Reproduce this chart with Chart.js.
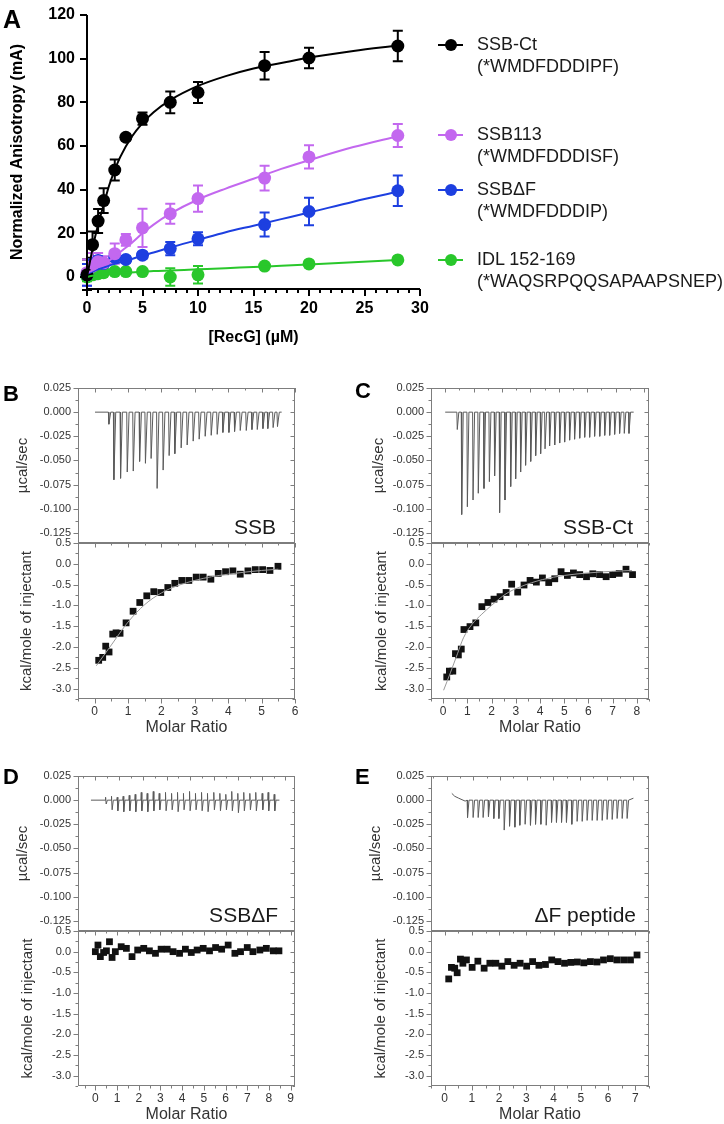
<!DOCTYPE html>
<html>
<head>
<meta charset="utf-8">
<script src="https://cdn.jsdelivr.net/npm/chart.js@4.4.1/dist/chart.umd.min.js"></script>
<style>
  body { margin: 0; background: #fff; width: 724px; height: 1124px; position: relative; overflow: hidden;
         font-family: "Liberation Sans", Arial, sans-serif; }
  canvas { position: absolute; }
  .panel { position: absolute; font-weight: bold; line-height: 1; color: #000; }
  .leg { position: absolute; left: 477px; font-size: 18px; line-height: 21.7px; color: #1a1a1a; white-space: nowrap; }
  .legline { position: absolute; height: 2px; width: 25px; left: 438px; }
  .legdot { position: absolute; width: 12px; height: 12px; border-radius: 50%; left: 445px; }
</style>
</head>
<body>
<script>
// ---------- panel A: anisotropy titration ----------
const concA = [0, 0.5, 1, 1.5, 2.5, 3.5, 5, 7.5, 10, 16, 20, 28];
const ssbCt     = [1, 14.8, 25.6, 35, 49, 64, 72.5, 80, 84.5, 96.8, 100.3, 105.8];
const ssbCtErr  = [7, 6, 5.5, 5.7, 4.8, 1.5, 2.8, 5, 4.8, 6.3, 4.7, 7];
const ssb113    = [2, 5, 7, 6.5, 10.7, 17, 22.5, 29, 35.9, 45.3, 55, 64.8];
const ssb113Err = [6, 6, 4, 3, 4.6, 2.7, 8.8, 4.6, 6, 5.7, 5.3, 5.3];
const ssbDF     = [1, 6, 7.5, 6.2, 9, 8, 10, 13, 17.5, 24, 30, 39.5];
const ssbDFErr  = [5, 2, 2, 2, 1.5, 1.5, 1.5, 3, 3, 5.5, 6.3, 7];
const idl       = [0, 1, 1.5, 2, 2.5, 2.5, 2.5, 0, 1, 5, 6, 7.8];
const idlErr    = [2, 1, 1, 1, 1, 1, 1, 4, 4, 1, 1, 1];

// fitted curves
const fitX      = [0, 0.5, 1, 1.5, 2, 2.5, 3, 4, 5, 6, 7.5, 10, 12.5, 15, 17.5, 20, 24, 28];
const ssbCtFit  = [0, 13, 24, 33, 42, 49, 55, 64, 70.5, 75.5, 81, 87.5, 92, 95.5, 98, 100.5, 103.5, 106];
const ssb113Fit = [2, 3, 4.5, 6, 7.5, 9.5, 11.5, 15.5, 20, 24, 29, 35.5, 40.5, 45, 49.5, 53.5, 59.5, 64.5];
const ssbDFFit  = [1.5, 2.5, 3.5, 4.3, 5.2, 6, 6.7, 8.2, 9.8, 11.2, 13.5, 17, 20.5, 23.5, 26.5, 29.5, 34.5, 39];
const idlFit    = [0, 0.6, 1, 1.3, 1.5, 1.7, 1.9, 2.1, 2.4, 2.7, 3, 3.5, 4, 4.6, 5.1, 5.7, 6.7, 7.8];

const seriesNames  = ['SSB-Ct', 'SSB113', 'SSB\u0394F', 'IDL 152-169'];
const seriesSeqs   = ['(*WMDFDDDIPF)', '(*WMDFDDDISF)', '(*WMDFDDDIP)', '(*WAQSRPQQSAPAAPSNEP)'];
const seriesColors = ['#000000', '#c368ef', '#1d3fe0', '#29c72b'];

const aXTicks = [0, 5, 10, 15, 20, 25, 30];
const aYTicks = [0, 20, 40, 60, 80, 100, 120];

// ---------- ITC raw heats (injection time in min, peak height in µcal/sec) ----------
const bBase = [0.2, 112];
const bInjT = [8.2, 11.2, 15.2, 19.2, 22.8, 26.6, 30.1, 33.5, 37.1, 40.7, 44.3, 47.7, 51.5, 55.1, 58.7,
               62.3, 65.9, 69.5, 73.1, 76.5, 80.1, 83.5, 86.9, 90.5, 93.9, 97.1, 100.5, 103.4, 106.6, 109.2];
const bInjQ = [-0.0125, -0.070, -0.0685, -0.062, -0.061, -0.051, -0.053, -0.048, -0.079, -0.060, -0.045, -0.043,
               -0.037, -0.034, -0.030, -0.028, -0.025, -0.024, -0.023, -0.021, -0.021, -0.020, -0.019, -0.019,
               -0.018, -0.018, -0.017, -0.017, -0.016, -0.015];

const cBase = [0, 132.7];
const cInjT = [8.2, 11.3, 15.3, 19.3, 23.0, 27.0, 30.8, 34.5, 38.0, 41.8, 45.8, 49.3, 52.8, 56.3, 59.9, 63.4,
               66.9, 70.0, 73.2, 76.8, 80.3, 83.8, 87.3, 90.8, 94.4, 97.9, 101.4, 104.9, 108.5, 112.0, 115.5,
               119.0, 122.5, 125.8, 129.1];
const cInjQ = [-0.018, -0.106, -0.098, -0.091, -0.084, -0.079, -0.072, -0.066, -0.104, -0.091, -0.077, -0.069,
               -0.062, -0.055, -0.051, -0.045, -0.043, -0.038, -0.035, -0.034, -0.032, -0.031, -0.029, -0.028,
               -0.027, -0.026, -0.026, -0.025, -0.025, -0.024, -0.024, -0.023, -0.022, -0.022, -0.022];

const dBase = [-3.6, 154.9];
const dInjT = [8.4, 13.4, 18.2, 23.2, 28.3, 33.3, 38.4, 43.4, 48.5, 53.5, 58.8, 63.9, 68.9, 73.9, 79.0, 84.0,
               89.1, 94.1, 99.4, 104.5, 109.5, 114.5, 119.6, 124.6, 129.7, 134.7, 140.1, 145.1, 150.2];
const dInjUp = [0.003, 0.004, 0.003, 0.004, 0.005, 0.006, 0.008, 0.007, 0.009, 0.007, 0.008, 0.007, 0.008, 0.007, 0.009,
                0.007, 0.008, 0.007, 0.008, 0.007, 0.006, 0.009, 0.007, 0.008, 0.007, 0.008, 0.007, 0.008, 0.006];
const dInjDown = [-0.004, -0.010, -0.011, -0.012, -0.011, -0.012, -0.011, -0.012, -0.011, -0.010, -0.011, -0.010,
                  -0.012, -0.010, -0.011, -0.010, -0.011, -0.012, -0.010, -0.011, -0.010, -0.011, -0.013, -0.011,
                  -0.010, -0.011, -0.010, -0.011, -0.011];

const eDriftT = [3.8, 6, 9, 13.8];
const eDriftQ = [0.007, 0.004, 0.002, -0.001];
const eBaseEnd = [140, 0.002];
const eInjT = [15.3, 19.5, 23.3, 27.0, 31.0, 35.0, 38.8, 42.8, 46.8, 50.8, 54.5, 58.5, 62.5, 66.3, 70.3, 74.3,
               78.3, 82.0, 85.8, 89.5, 93.5, 97.5, 101.3, 105.0, 108.8, 112.5, 116.3, 120.0, 123.8, 127.5, 131.3, 135.0];
const eInjQ = [-0.018, -0.018, -0.018, -0.018, -0.017, -0.019, -0.019, -0.031, -0.027, -0.028, -0.026, -0.025,
               -0.026, -0.025, -0.025, -0.026, -0.023, -0.023, -0.023, -0.023, -0.025, -0.022, -0.022, -0.021,
               -0.021, -0.021, -0.021, -0.020, -0.020, -0.019, -0.019, -0.019];

// ---------- ITC integrated heats (molar ratio, kcal/mole of injectant) ----------
const bMR = [0.12, 0.24, 0.33, 0.43, 0.54, 0.64, 0.76, 0.94, 1.15, 1.35, 1.56, 1.77, 1.98, 2.19, 2.40, 2.61, 2.82,
             3.04, 3.25, 3.48, 3.70, 3.92, 4.14, 4.36, 4.59, 4.81, 5.03, 5.25, 5.49];
const bDH = [-2.32, -2.25, -1.98, -2.12, -1.69, -1.66, -1.67, -1.42, -1.14, -0.93, -0.77, -0.67, -0.69, -0.57, -0.47,
             -0.40, -0.40, -0.32, -0.32, -0.37, -0.23, -0.19, -0.17, -0.25, -0.17, -0.14, -0.14, -0.16, -0.06];
const bFitX = [0.05, 0.5, 1.0, 1.5, 2.0, 2.5, 3.0, 3.5, 4.0, 4.5, 5.0, 5.5];
const bFitY = [-2.45, -1.95, -1.4, -0.98, -0.7, -0.52, -0.4, -0.31, -0.25, -0.2, -0.16, -0.13];

const cMR = [0.15, 0.26, 0.40, 0.51, 0.63, 0.75, 0.86, 1.11, 1.35, 1.60, 1.85, 2.10, 2.35, 2.60, 2.83, 3.08, 3.34,
             3.59, 3.85, 4.10, 4.36, 4.61, 4.87, 5.13, 5.38, 5.64, 5.92, 6.18, 6.46, 6.73, 7.00, 7.27, 7.55, 7.82];
const cDH = [-2.72, -2.58, -2.58, -2.16, -2.19, -2.05, -1.58, -1.51, -1.42, -1.03, -0.93, -0.85, -0.79, -0.69, -0.49,
             -0.68, -0.51, -0.40, -0.44, -0.34, -0.45, -0.36, -0.19, -0.28, -0.22, -0.26, -0.31, -0.24, -0.26, -0.31,
             -0.26, -0.23, -0.13, -0.26];
const cFitX = [0.02, 0.3, 0.6, 0.84, 1.2, 1.6, 2.0, 2.6, 3.2, 4.1, 5.0, 6.0, 7.0, 7.8];
const cFitY = [-3.04, -2.62, -2.15, -1.78, -1.45, -1.21, -1.0, -0.72, -0.55, -0.38, -0.28, -0.22, -0.18, -0.16];

const dMR = [0.0, 0.12, 0.23, 0.38, 0.51, 0.65, 0.77, 0.92, 1.19, 1.43, 1.69, 1.95, 2.23, 2.49, 2.77, 3.03, 3.31,
             3.58, 3.88, 4.15, 4.42, 4.69, 4.97, 5.26, 5.54, 5.82, 6.12, 6.43, 6.69, 7.00, 7.26, 7.58, 7.88, 8.20, 8.46];
const dDH = [0.0, 0.16, -0.12, -0.02, 0.02, 0.24, -0.14, 0.0, 0.12, 0.08, -0.12, 0.04, 0.08, 0.02, -0.04, 0.06, 0.06,
             0.0, -0.04, 0.06, -0.02, 0.04, 0.08, 0.02, 0.10, 0.06, 0.16, -0.04, 0.0, 0.10, 0.0, 0.04, 0.08, 0.02, 0.02];

const eMR = [0.15, 0.25, 0.37, 0.46, 0.58, 0.67, 0.80, 1.01, 1.22, 1.45, 1.66, 1.88, 2.10, 2.32, 2.55, 2.77, 3.01,
             3.23, 3.46, 3.70, 3.93, 4.16, 4.40, 4.63, 4.87, 5.11, 5.35, 5.59, 5.83, 6.08, 6.32, 6.57, 6.82, 7.06];
const eDH = [-0.66, -0.38, -0.40, -0.51, -0.18, -0.28, -0.20, -0.38, -0.23, -0.40, -0.28, -0.28, -0.35, -0.24, -0.33,
             -0.28, -0.35, -0.24, -0.33, -0.31, -0.20, -0.24, -0.28, -0.26, -0.25, -0.27, -0.24, -0.25, -0.20, -0.17,
             -0.20, -0.20, -0.20, -0.08];

const heatTicks = [0.025, 0, -0.025, -0.05, -0.075, -0.1, -0.125];
const enthTicks = [0.5, 0, -0.5, -1, -1.5, -2, -2.5, -3];
const mrTicksB = [0, 1, 2, 3, 4, 5, 6];
const mrTicksC = [0, 1, 2, 3, 4, 5, 6, 7, 8];
const mrTicksD = [0, 1, 2, 3, 4, 5, 6, 7, 8, 9];
const mrTicksE = [0, 1, 2, 3, 4, 5, 6, 7];

// ---------- helpers ----------
const FONT = "'Liberation Sans', Arial, sans-serif";
Chart.defaults.font.family = FONT;

function mk(left, top, w, h) {
  const c = document.createElement('canvas');
  c.width = w; c.height = h;
  c.style.left = left + 'px'; c.style.top = top + 'px';
  c.style.width = w + 'px'; c.style.height = h + 'px';
  document.body.appendChild(c);
  return c;
}
const pts = (xs, ys) => xs.map((x, i) => ({x: x, y: ys[i]}));
function steps(min, max, step, skip) {
  const out = [];
  for (let k = Math.ceil(min / step - 1e-9); k * step <= max + 1e-9; k++) {
    const v = +(k * step).toFixed(6);
    if (!skip || !skip.some(s => Math.abs(s - v) < 1e-9)) out.push(v);
  }
  return out;
}
function trace(base, times, depths) {
  const out = [{x: base[0], y: 0}];
  times.forEach((t, i) => { out.push({x: t, y: 0}, {x: t + 0.3, y: depths[i]}, {x: t + 1.4, y: 0}); });
  out.push({x: base[1], y: 0});
  return out;
}
// fix a scale's size and stop it from pushing the plot area around
const fixSize = (w, h) => s => {
  if (w !== null) s.width = w;
  if (h !== null) s.height = h;
  s.paddingTop = 0; s.paddingBottom = 0; s.paddingLeft = 0; s.paddingRight = 0;
};

// box, outward/inward ticks and inner label
const frameTicks = {
  id: 'frameTicks',
  afterDatasetsDraw(chart, args, o) {
    const {ctx, chartArea: a, scales} = chart;
    const sx = scales.x, sy = scales.y;
    ctx.save();
    ctx.strokeStyle = o.color;
    ctx.lineWidth = o.lineWidth;
    const seg = (x1, y1, x2, y2) => { ctx.beginPath(); ctx.moveTo(x1, y1); ctx.lineTo(x2, y2); ctx.stroke(); };
    if (o.box) {
      ctx.strokeRect(a.left + 0.5, a.top + 0.5, a.right - a.left - 1, a.bottom - a.top - 1);
    } else {
      seg(a.left, a.top, a.left, a.bottom + 1);
      seg(a.left - 1, a.bottom, a.right, a.bottom);
    }
    const mark = (vals, len, isX) => vals.forEach(v => {
      if (isX) {
        const p = Math.round(sx.getPixelForValue(v)) + (o.box ? 0.5 : 0);
        if (o.xOut) seg(p, a.bottom, p, a.bottom + len);
        if (o.box) seg(p, a.top, p, a.top + len);
      } else {
        const p = Math.round(sy.getPixelForValue(v)) + (o.box ? 0.5 : 0);
        seg(a.left - len, p, a.left, p);
        if (o.box) seg(a.right, p, a.right - len, p);
      }
    });
    mark(o.xMajor, o.major, true); mark(o.xMinor, o.minor, true);
    mark(o.yMajor, o.major, false); mark(o.yMinor, o.minor, false);
    if (o.note) {
      ctx.fillStyle = '#1a1a1a';
      ctx.font = '21px ' + FONT;
      ctx.textAlign = 'right';
      ctx.textBaseline = 'alphabetic';
      ctx.fillText(o.note, a.right - o.noteGap, a.bottom - 9);
    }
    ctx.restore();
  }
};

const errBars = {
  id: 'errBars',
  beforeDatasetsDraw(chart) {
    const {ctx, scales: {x, y}} = chart;
    chart.data.datasets.forEach(ds => {
      if (!ds.errors) return;
      ctx.save();
      ctx.strokeStyle = ds.backgroundColor;
      ctx.lineWidth = 2;
      ds.data.forEach((p, i) => {
        const e = ds.errors[i];
        const px = x.getPixelForValue(p.x), y1 = y.getPixelForValue(p.y + e), y2 = y.getPixelForValue(p.y - e);
        ctx.beginPath();
        ctx.moveTo(px, y1); ctx.lineTo(px, y2);
        ctx.moveTo(px - 5, y1); ctx.lineTo(px + 5, y1);
        ctx.moveTo(px - 5, y2); ctx.lineTo(px + 5, y2);
        ctx.stroke();
      });
      ctx.restore();
    });
  }
};

// ---------- panel A chart ----------
const aVals = [ssbCt, ssb113, ssbDF, idl];
const aErrs = [ssbCtErr, ssb113Err, ssbDFErr, idlErr];
const aFits = [ssbCtFit, ssb113Fit, ssbDFFit, idlFit];
const aSets = [];
aFits.forEach((f, i) => aSets.push({
  data: pts(fitX, f), borderColor: seriesColors[i], borderWidth: 2, pointRadius: 0,
  tension: 0.4, cubicInterpolationMode: 'monotone', clip: false
}));
aVals.forEach((v, i) => aSets.push({
  data: pts(concA, v), errors: aErrs[i], showLine: false, pointRadius: 6.5, pointBorderWidth: 0,
  backgroundColor: seriesColors[i], pointBackgroundColor: seriesColors[i], clip: false
}));

new Chart(mk(0, 0, 724, 350), {
  type: 'line',
  data: {datasets: aSets},
  options: {
    responsive: false, animation: false, events: [],
    layout: {padding: {left: 0, top: 15, right: 304, bottom: 1}},
    plugins: {
      legend: {display: false}, tooltip: {enabled: false},
      frameTicks: {box: false, xOut: true, color: '#000', lineWidth: 2, major: 7, minor: 4,
        xMajor: aXTicks, xMinor: steps(0, 30, 1, aXTicks), yMajor: aYTicks, yMinor: []}
    },
    scales: {
      x: {
        type: 'linear', min: 0, max: 30,
        afterBuildTicks: ax => { ax.ticks = aXTicks.map(v => ({value: v})); },
        afterFit: fixSize(null, 60),
        grid: {display: false, drawTicks: false}, border: {display: false},
        ticks: {padding: 10, color: '#000', font: {size: 16, weight: 'bold'}, autoSkip: false, maxRotation: 0},
        title: {display: true, text: '[RecG] (\u00b5M)', color: '#000', font: {size: 16, weight: 'bold'},
                padding: {top: 0, bottom: 1.4}}
      },
      y: {
        min: -5.5, max: 120,
        afterBuildTicks: ax => { ax.ticks = aYTicks.map(v => ({value: v})); },
        afterFit: fixSize(87, null),
        grid: {display: false, drawTicks: false}, border: {display: false},
        ticks: {padding: 12, color: '#000', font: {size: 16, weight: 'bold'}, autoSkip: false},
        title: {display: true, text: 'Normalized Anisotropy (mA)', color: '#000', font: {size: 16, weight: 'bold'},
                padding: {top: 8.4, bottom: 0}}
      }
    }
  },
  plugins: [errBars, frameTicks]
});

// legend for panel A
const legY = [45, 135, 190, 260];
seriesNames.forEach((name, i) => {
  const t = document.createElement('div');
  t.className = 'leg';
  t.style.top = (legY[i] - 10.85) + 'px';
  t.innerHTML = name + '<br>' + seriesSeqs[i];
  document.body.appendChild(t);
  const l = document.createElement('div');
  l.className = 'legline'; l.style.top = (legY[i] - 1) + 'px'; l.style.background = seriesColors[i];
  document.body.appendChild(l);
  const d = document.createElement('div');
  d.className = 'legdot'; d.style.top = (legY[i] - 6) + 'px'; d.style.background = seriesColors[i];
  document.body.appendChild(d);
});

// ---------- ITC panels ----------
function itc(p) {
  const [L, T, W, H] = p.box;
  const withX = !!p.xTicks;
  const cv = mk(L - 70, T - 10, 70 + W + 12, 10 + H + (withX ? 42 : 2));
  const yMinorStep = p.heat ? 0.0125 : 0.25;
  const yTicks = p.heat ? heatTicks : enthTicks;
  const xMajor = withX ? p.xTicks : steps(p.xMin, p.xMax, 20);
  const xMinor = withX ? steps(p.xMin, p.xMax, 0.5, p.xTicks) : steps(p.xMin, p.xMax, 10, xMajor);
  return new Chart(cv, {
    type: 'line',
    data: {datasets: p.datasets},
    options: {
      responsive: false, animation: false, events: [],
      layout: {padding: {left: 0, top: 10, right: 12, bottom: 2}},
      plugins: {
        legend: {display: false}, tooltip: {enabled: false},
        frameTicks: {box: true, xOut: withX, color: '#7d7d7d', lineWidth: 1, major: 4.5, minor: 2.5,
          xMajor: xMajor, xMinor: xMinor, yMajor: yTicks,
          yMinor: steps(p.yMin, p.yMax, yMinorStep, yTicks), note: p.note || null, noteGap: p.noteGap || 0}
      },
      scales: {
        x: {
          type: 'linear', min: p.xMin, max: p.xMax, display: withX,
          afterBuildTicks: ax => { if (withX) ax.ticks = p.xTicks.map(v => ({value: v})); },
          afterFit: fixSize(null, withX ? 40 : 0),
          grid: {display: false, drawTicks: false}, border: {display: false},
          ticks: {padding: 5, color: '#333', font: {size: 12}, autoSkip: false, maxRotation: 0},
          title: {display: withX, text: 'Molar Ratio', color: '#333', font: {size: 16}, padding: {top: 0, bottom: 2}}
        },
        y: {
          min: p.yMin, max: p.yMax,
          afterBuildTicks: ax => { ax.ticks = yTicks.map(v => ({value: v})); },
          afterFit: fixSize(70, null),
          grid: {display: false, drawTicks: false}, border: {display: false},
          ticks: {padding: 7, color: '#333', font: {size: 11}, autoSkip: false,
                  callback: v => v.toFixed(p.heat ? 3 : 1)},
          title: {display: true, text: p.heat ? '\u00b5cal/sec' : 'kcal/mole of injectant', color: '#333',
                  font: {size: 15}, padding: {top: p.titleX - (L - 70) - 9, bottom: 0}}
        }
      }
    },
    plugins: [frameTicks]
  });
}

const heatLine = d => ({data: d, borderColor: '#5a5a5a', borderWidth: 1, pointRadius: 0, tension: 0});
const sq = d => ({data: d, showLine: false, pointStyle: 'rect', pointRadius: 4.8, pointBorderWidth: 0,
                  pointBackgroundColor: '#111', backgroundColor: '#111'});
const fitLine = d => ({data: d, borderColor: '#9a9a9a', borderWidth: 1, pointRadius: 0, tension: 0.4,
                       cubicInterpolationMode: 'monotone'});

// D raw trace has small up and down spikes
const dTrace = [{x: dBase[0], y: 0}];
dInjT.forEach((t, i) => {
  dTrace.push({x: t, y: 0}, {x: t + 0.3, y: dInjUp[i]}, {x: t + 0.8, y: dInjDown[i]}, {x: t + 1.8, y: 0});
});
dTrace.push({x: dBase[1], y: 0});

// E raw trace starts with a small drift
const eTrace = pts(eDriftT, eDriftQ);
eInjT.forEach((t, i) => { eTrace.push({x: t, y: 0}, {x: t + 0.3, y: eInjQ[i]}, {x: t + 1.4, y: 0}); });
eTrace.push({x: eBaseEnd[0], y: eBaseEnd[1]});

const HEAT = {heat: true, yMin: -0.1355, yMax: 0.025};
const ENTH = {heat: false, yMin: -3.25, yMax: 0.5};

itc(Object.assign({box: [78, 388, 217, 155], xMin: -10, xMax: 120, titleX: 23,
  datasets: [heatLine(trace(bBase, bInjT, bInjQ))], note: 'SSB', noteGap: 19}, HEAT));
itc(Object.assign({box: [78, 543, 217, 156], xMin: -0.5, xMax: 6, xTicks: mrTicksB, titleX: 27,
  datasets: [fitLine(pts(bFitX, bFitY)), sq(pts(bMR, bDH))]}, ENTH));

itc(Object.assign({box: [431, 388, 218, 155], xMin: -10, xMax: 143.5, titleX: 379,
  datasets: [heatLine(trace(cBase, cInjT, cInjQ))], note: 'SSB-Ct', noteGap: 16}, HEAT));
itc(Object.assign({box: [431, 543, 218, 156], xMin: -0.5, xMax: 8.5, xTicks: mrTicksC, titleX: 382,
  datasets: [fitLine(pts(cFitX, cFitY)), sq(pts(cMR, cDH))]}, ENTH));

itc(Object.assign({box: [78, 776, 217, 155], xMin: -14.5, xMax: 168, titleX: 22.5,
  datasets: [heatLine(dTrace)], note: 'SSB\u0394F', noteGap: 17}, HEAT));
itc(Object.assign({box: [78, 931, 217, 155], xMin: -0.8, xMax: 9.2, xTicks: mrTicksD, titleX: 27.5,
  datasets: [sq(pts(dMR, dDH))]}, ENTH));

itc(Object.assign({box: [431, 776, 218, 155], xMin: -11.8, xMax: 151.7, titleX: 376,
  datasets: [heatLine(eTrace)], note: '\u0394F peptide', noteGap: 13}, HEAT));
itc(Object.assign({box: [431, 931, 218, 155], xMin: -0.5, xMax: 7.5, xTicks: mrTicksE, titleX: 380.7,
  datasets: [sq(pts(eMR, eDH))]}, ENTH));

// panel letters
[['A', 3, 7, 25], ['B', 3, 383, 22], ['C', 355, 380, 22], ['D', 3, 766, 22], ['E', 355, 766, 22]].forEach(p => {
  const d = document.createElement('div');
  d.className = 'panel';
  d.textContent = p[0];
  d.style.left = p[1] + 'px'; d.style.top = p[2] + 'px'; d.style.fontSize = p[3] + 'px';
  document.body.appendChild(d);
});
</script>
</body>
</html>
